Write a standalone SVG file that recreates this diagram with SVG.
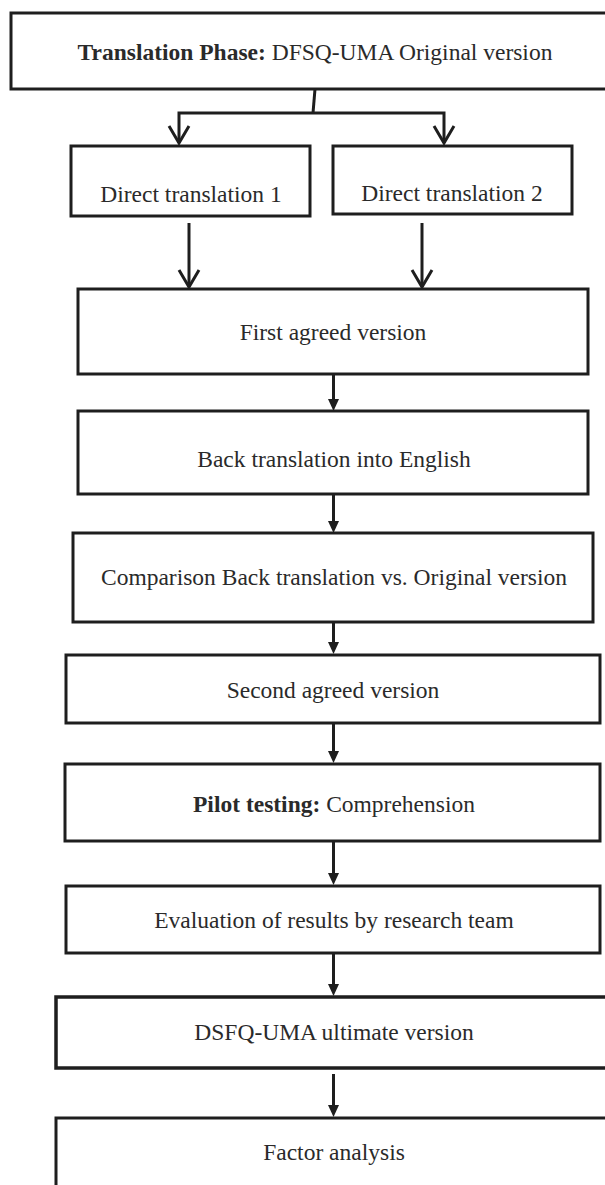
<svg xmlns="http://www.w3.org/2000/svg" width="605" height="1185" viewBox="0 0 605 1185">
<style>
.box{fill:#fff;stroke:#1e1e1e;stroke-width:3}
.lbl{font-family:"Liberation Serif","Times New Roman",serif;font-size:23.5px;fill:#2a2a2a;text-anchor:middle}
.b{font-weight:bold}
.con{fill:none;stroke:#1e1e1e;stroke-width:3;stroke-linejoin:miter}
</style>
<defs>
<marker id="tri" markerUnits="userSpaceOnUse" markerWidth="12" markerHeight="11" viewBox="0 0 12 11" refX="2" refY="5.5" orient="auto">
<path d="M0,0 L12,5.5 L0,11 z" fill="#1e1e1e"/>
</marker>
<marker id="vee" markerUnits="userSpaceOnUse" markerWidth="24" markerHeight="26" viewBox="-20 -13 24 26" refX="0" refY="0" orient="auto" overflow="visible">
<path d="M-17,-10 L0,0 L-17,10" fill="none" stroke="#1e1e1e" stroke-width="3"/>
</marker>
</defs>
<rect width="605" height="1185" fill="#fff"/>
<g id="n-translation">
<rect class="box" x="11" y="13" width="600" height="76"/>
<text class="lbl" x="315" y="60"><tspan class="b">Translation Phase:</tspan> DFSQ-UMA Original version</text>
</g>
<g id="n-direct1">
<rect class="box" x="71" y="146" width="239" height="70"/>
<text class="lbl" x="191" y="202">Direct translation 1</text>
</g>
<g id="n-direct2">
<rect class="box" x="333" y="146" width="239" height="68"/>
<text class="lbl" x="452" y="201">Direct translation 2</text>
</g>
<g id="n-first">
<rect class="box" x="78" y="289" width="510" height="85"/>
<text class="lbl" x="333" y="340">First agreed version</text>
</g>
<g id="n-back">
<rect class="box" x="78" y="411" width="510" height="83"/>
<text class="lbl" x="334" y="467">Back translation into English</text>
</g>
<g id="n-comparison">
<rect class="box" x="73" y="533" width="520" height="89"/>
<text class="lbl" x="334" y="585">Comparison Back translation vs. Original version</text>
</g>
<g id="n-second">
<rect class="box" x="66" y="655" width="534" height="68"/>
<text class="lbl" x="333" y="698">Second agreed version</text>
</g>
<g id="n-pilot">
<rect class="box" x="65" y="764" width="535" height="77"/>
<text class="lbl" x="334" y="812"><tspan class="b">Pilot testing:</tspan> Comprehension</text>
</g>
<g id="n-evaluation">
<rect class="box" x="66" y="886" width="534" height="67"/>
<text class="lbl" x="334" y="928">Evaluation of results by research team</text>
</g>
<g id="n-ultimate">
<rect class="box" x="56" y="997" width="560" height="71" style="stroke-width:3.5"/>
<text class="lbl" x="334" y="1040">DSFQ-UMA ultimate version</text>
</g>
<g id="n-factor">
<rect class="box" x="56" y="1118" width="560" height="100"/>
<text class="lbl" x="334" y="1160">Factor analysis</text>
</g>
<g id="connectors">
<path class="con" d="M315,89 L313,113"/>
<path class="con" d="M313,113 H179 V143" marker-end="url(#vee)"/>
<path class="con" d="M313,113 H444 V143" marker-end="url(#vee)"/>
<path class="con" d="M189,223 V287" marker-end="url(#vee)"/>
<path class="con" d="M422,223 V287" marker-end="url(#vee)"/>
<path class="con" d="M333.5,374 V401" marker-end="url(#tri)"/>
<path class="con" d="M333.5,494 V523" marker-end="url(#tri)"/>
<path class="con" d="M333.5,622 V644" marker-end="url(#tri)"/>
<path class="con" d="M333.5,723 V753" marker-end="url(#tri)"/>
<path class="con" d="M333.5,841 V875" marker-end="url(#tri)"/>
<path class="con" d="M333.5,953 V986" marker-end="url(#tri)"/>
<path class="con" d="M333.5,1074 V1107" marker-end="url(#tri)"/>
</g>
</svg>
